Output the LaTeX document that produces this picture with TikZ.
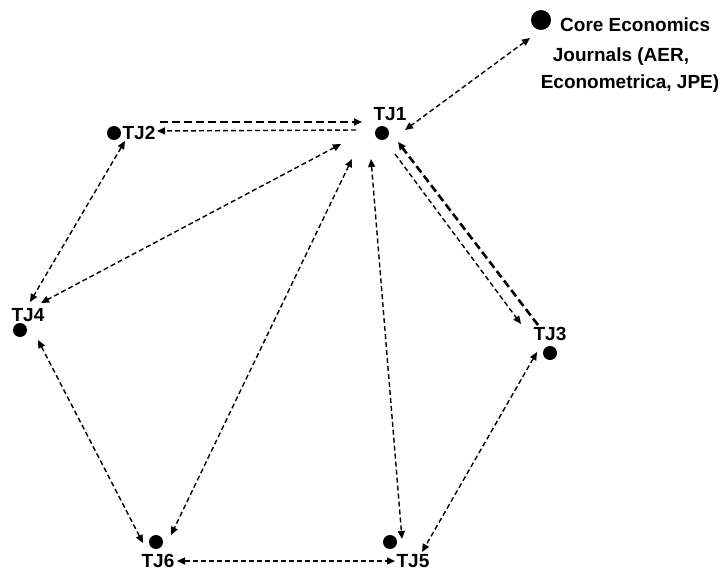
\documentclass[tikz,border=0pt]{standalone}
\usepackage{fontspec}
\setmainfont{Liberation Sans}
\usetikzlibrary{arrows.meta}
\tikzset{
  dot/.style={circle,fill=black,inner sep=0pt,minimum size=14pt},
  bigdot/.style={circle,fill=black,inner sep=0pt,minimum size=20pt},
  lbl/.style={font=\fontsize{19}{22}\selectfont\bfseries,inner sep=0pt},
  mytip/.tip={Triangle[length=8pt,width=7pt]},
  thin link/.style={line width=1.4pt,dash pattern=on 5pt off 3pt},
  thick link/.style={line width=2.6pt,dash pattern=on 8pt off 4pt},
}
\begin{document}
\begin{tikzpicture}[x=1pt,y=-1pt]
\useasboundingbox (0,0) rectangle (726,573);
% dots
\node[bigdot] (core) at (541,20) {};
\node[dot] (tj1) at (382,133) {};
\node[dot] (tj2) at (114,133) {};
\node[dot] (tj4) at (20,330) {};
\node[dot] (tj3) at (550,353) {};
\node[dot] (tj6) at (156,542) {};
\node[dot] (tj5) at (390,542) {};
% labels
\node[lbl] (l1) at (390,114) {TJ1};
\node[lbl] (l2) at (139,133) {TJ2};
\node[lbl] (l4) at (28,315) {TJ4};
\node[lbl] (l3) at (550,334) {TJ3};
\node[lbl] (l6) at (158,561) {TJ6};
\node[lbl] (l5) at (413,561) {TJ5};
\node[lbl,anchor=west] (c1) at (560,25) {Core Economics};
\node[lbl] (c2) at (621,57) {Journals (AER,};
\node[lbl] (c3) at (630,84) {Econometrica, JPE)};
% connectors
\draw[thin link,mytip-mytip] ([shift={(-11,18)}]core.center) -- ([shift={(23,-3)}]tj1.center);
\draw[thick link,-mytip] ([shift={(46,-11)}]tj2.center) -- ([shift={(-20,-11)}]tj1.center);
\draw[thin link,-mytip] ([shift={(-26,-3)}]tj1.center) -- ([shift={(43,-2)}]tj2.center);
\draw[thin link,mytip-mytip] ([shift={(-41,11)}]tj1.center) -- ([shift={(21,-27)}]tj4.center);
\draw[thin link,mytip-mytip] ([shift={(11,8)}]tj2.center) -- ([shift={(10,-28)}]tj4.center);
\draw[thin link,mytip-mytip] ([shift={(18,10)}]tj4.center) -- ([shift={(-13,1)}]tj6.center);
\draw[thin link,mytip-mytip] ([shift={(-30,26)}]tj1.center) -- ([shift={(15,-7)}]tj6.center);
\draw[thin link,mytip-mytip] ([shift={(-11,26)}]tj1.center) -- ([shift={(12,-3)}]tj5.center);
\draw[thin link,-mytip] ([shift={(13,21)}]tj1.center) -- ([shift={(-29,-29)}]tj3.center);
\draw[thick link,-mytip] ([shift={(-12,-28)}]tj3.center) -- ([shift={(16,9)}]tj1.center);
\draw[thin link,mytip-mytip] ([shift={(-13,-1)}]tj3.center) -- ([shift={(32,10)}]tj5.center);
\draw[thin link,mytip-mytip] ([shift={(21,19)}]tj6.center) -- ([shift={(5,19)}]tj5.center);
\end{tikzpicture}
\end{document}
